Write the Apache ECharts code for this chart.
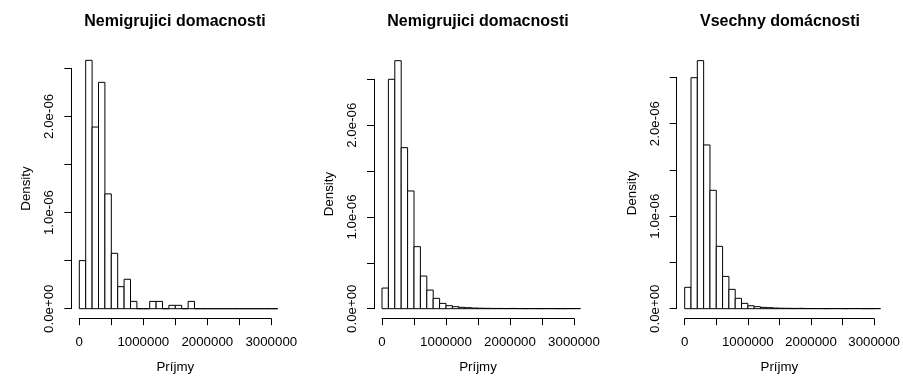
<!DOCTYPE html>
<html>
<head>
<meta charset="utf-8">
<script src="https://cdn.jsdelivr.net/npm/echarts@6/dist/echarts.min.js"></script>
<style>
  html, body { margin: 0; padding: 0; background: #fff; }
  #chart { width: 903px; height: 380px; }
</style>
</head>
<body>
<div id="chart"></div>
<script>
// Histogram of household income (Príjmy), density scale, bins of 100 000
const binWidth = 100000;

const titles = ['Nemigrujici domacnosti', 'Nemigrujici domacnosti', 'Vsechny domácnosti'];

// density per bin (x 1e-6), bins start at 0
const densityNemig1 = [0.500, 2.583, 1.889, 2.354, 1.194, 0.576, 0.229, 0.306, 0.076, 0, 0,
  0.076, 0.076, 0, 0.035, 0.035, 0, 0.076, 0, 0, 0, 0, 0, 0, 0, 0, 0, 0, 0, 0, 0];
const densityNemig2 = [0.225, 2.500, 2.703, 1.755, 1.283, 0.676, 0.356, 0.203, 0.113, 0.058, 0.033,
  0.022, 0.015, 0.011, 0.007, 0.005, 0.004, 0.003, 0.003, 0.002, 0.003, 0.002, 0.001, 0.002, 0.001,
  0.002, 0.002, 0.001, 0.001, 0.002, 0.002];
const densityVsechny = [0.231, 2.496, 2.680, 1.769, 1.279, 0.674, 0.349, 0.209, 0.112, 0.058, 0.032,
  0.022, 0.014, 0.011, 0.007, 0.005, 0.004, 0.003, 0.004, 0.002, 0.002, 0.002, 0.001, 0.002, 0.002,
  0.001, 0.002, 0.002, 0.001, 0.001, 0.002];

const xTicks = [0, 500000, 1000000, 1500000, 2000000, 2500000, 3000000];
const xTickLabels = ['0', '', '1000000', '', '2000000', '', '3000000'];
const yTicks = [0, 0.5e-6, 1.0e-6, 1.5e-6, 2.0e-6, 2.5e-6];
const yTickLabels = ['0.0e+00', '', '1.0e-06', '', '2.0e-06', ''];

const xLabel = 'Príjmy';
const yLabel = 'Density';

const panels = [densityNemig1, densityNemig2, densityVsechny];

// layout of each panel's plotting area
const layout = [
  { left: 79.3, top: 68.3, bottom: 308.7, center: 170 },
  { left: 382.0, top: 79.3, bottom: 308.7, center: 473 },
  { left: 684.7, top: 77.3, bottom: 308.7, center: 775 }
];
const plotWidth = 192;
const FONT = '"Liberation Sans", Arial, Helvetica, sans-serif';

const chart = echarts.init(document.getElementById('chart'), null, { renderer: 'canvas' });

const option = {
  backgroundColor: '#ffffff',
  animation: false,
  textStyle: { fontFamily: FONT, color: '#000' },
  title: [],
  grid: [],
  xAxis: [],
  yAxis: [],
  series: []
};

panels.forEach((dens, i) => {
  const L = layout[i];
  option.title.push({
    text: titles[i],
    left: L.center, top: 9, textAlign: 'center',
    textStyle: { fontFamily: FONT, fontSize: 16, fontWeight: 'bold', color: '#000' }
  });
  option.grid.push({
    left: L.left, top: L.top, width: plotWidth, height: L.bottom - L.top,
    containLabel: false
  });
  option.xAxis.push({
    type: 'value', gridIndex: i,
    min: xTicks[0], max: xTicks[xTicks.length - 1], interval: 500000,
    offset: 10,
    splitLine: { show: false },
    axisLine: { show: true, onZero: false, lineStyle: { color: '#000', width: 1 } },
    axisTick: { show: true, length: 6.5, inside: false, lineStyle: { color: '#000', width: 1 } },
    axisLabel: {
      margin: 17, fontSize: 13.3, color: '#000', fontFamily: FONT,
      formatter: v => xTickLabels[xTicks.indexOf(v)] || ''
    },
    name: xLabel, nameLocation: 'middle', nameGap: 42,
    nameTextStyle: { fontSize: 13.3, color: '#000', fontFamily: FONT }
  });
  option.yAxis.push({
    type: 'value', gridIndex: i,
    min: yTicks[0], max: yTicks[yTicks.length - 1], interval: 0.5e-6,
    offset: 8,
    splitLine: { show: false },
    axisLine: { show: true, onZero: false, lineStyle: { color: '#000', width: 1 } },
    axisTick: { show: true, length: 7, inside: false, lineStyle: { color: '#000', width: 1 } },
    axisLabel: {
      margin: 15, fontSize: 13.3, color: '#000', fontFamily: FONT, rotate: 90,
      formatter: v => {
        const k = yTicks.findIndex(t => Math.abs(t - v) < 1e-12);
        return k >= 0 ? yTickLabels[k] : '';
      }
    },
    name: yLabel, nameLocation: 'middle', nameGap: 38,
    nameTextStyle: { fontSize: 13.3, color: '#000', fontFamily: FONT }
  });
  const data = dens.map((d, k) => [k * binWidth, (k + 1) * binWidth, d * 1e-6]);
  option.series.push({
    type: 'custom', xAxisIndex: i, yAxisIndex: i, clip: false,
    data: data,
    encode: { x: [0, 1], y: 2 },
    renderItem: (params, api) => {
      const p0 = api.coord([api.value(0), 0]);
      const p1 = api.coord([api.value(1), api.value(2)]);
      return {
        type: 'rect',
        shape: { x: p0[0], y: p1[1], width: p1[0] - p0[0], height: p0[1] - p1[1] },
        style: { fill: '#fff', stroke: '#000', lineWidth: 1 }
      };
    }
  });
});

chart.setOption(option);
</script>
</body>
</html>
